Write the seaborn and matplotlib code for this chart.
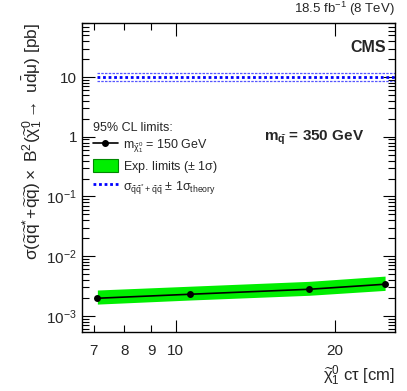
import numpy as np
import pandas as pd
import matplotlib
matplotlib.use("Agg")
import matplotlib.pyplot as plt
import seaborn as sns
from matplotlib.lines import Line2D
from matplotlib.patches import Patch
from matplotlib.ticker import FixedLocator, NullFormatter, LogLocator, FixedFormatter

# valores
ctau = [7.11, 10.65, 17.9, 24.9]
limite_exp = [1.98e-3, 2.31e-3, 2.80e-3, 3.40e-3]
banda_baja = [1.58e-3, 1.85e-3, 2.22e-3, 2.68e-3]
banda_alta = [2.72e-3, 3.15e-3, 3.80e-3, 4.65e-3]

ctau_teoria = [7.11, 26.0]
sigma_teoria = [10.0, 10.0]
sigma_teoria_alta = [11.6, 11.6]
sigma_teoria_baja = [8.6, 8.6]

df = pd.DataFrame({"ctau": ctau, "limite": limite_exp})
df_teo = pd.DataFrame({"ctau": ctau_teoria, "sigma": sigma_teoria})

sns.set_theme(style="ticks")
plt.rcParams["font.family"] = ["Liberation Sans", "DejaVu Sans"]
plt.rcParams["mathtext.fontset"] = "custom"
plt.rcParams["mathtext.rm"] = "Liberation Sans"
plt.rcParams["mathtext.it"] = "Liberation Sans"  # estilo ROOT, sin cursiva
plt.rcParams["mathtext.bf"] = "Liberation Sans:bold"

fig = plt.figure(figsize=(4.07, 3.91), dpi=100)
ax = fig.add_axes([0.2015, 0.151, 0.769, 0.790])

# banda de limites esperados
ax.fill_between(ctau, banda_baja, banda_alta, color="#00ee00", lw=0, zorder=1)
sns.lineplot(data=df, x="ctau", y="limite", ax=ax, color="black", lw=1.2,
             marker="o", markersize=5, markeredgewidth=0, zorder=3)

# seccion eficaz teorica
sns.lineplot(data=df_teo, x="ctau", y="sigma", ax=ax, color="#0000ff",
             lw=2, linestyle=(0, (1, 1)), zorder=2)
ax.plot(ctau_teoria, sigma_teoria_alta, color="#5555ff", lw=0.9, linestyle=(0, (2, 1)))
ax.plot(ctau_teoria, sigma_teoria_baja, color="#5555ff", lw=0.9, linestyle=(0, (2, 1)))

ax.set_xscale("log")
ax.set_yscale("log")
ax.set_xlim(6.65, 26.0)
ax.set_ylim(5.4e-4, 80)

ax.xaxis.set_major_locator(FixedLocator([10, 20]))
ax.xaxis.set_major_formatter(FixedFormatter(["10", "20"]))
ax.xaxis.set_minor_locator(FixedLocator([7, 8, 9]))
ax.xaxis.set_minor_formatter(FixedFormatter(["7", "8", "9"]))

ax.yaxis.set_minor_locator(LogLocator(base=10, subs=np.arange(2, 10), numticks=20))
ax.yaxis.set_minor_formatter(NullFormatter())
ax.set_yticks([1e-3, 1e-2, 1e-1, 1, 10])
ax.set_yticklabels([r"$10^{-3}$", r"$10^{-2}$", r"$10^{-1}$", "1", "10"])

ax.tick_params(which="both", direction="in", top=True, right=True, labelsize=11,
               color="black", width=0.8)
ax.tick_params(which="major", length=9)
ax.tick_params(which="minor", length=5)
ax.tick_params(axis="x", which="both", pad=9, labelsize=11)
for s in ax.spines.values():
    s.set_linewidth(1.0)
    s.set_color("black")

ax.set_xlabel(r"$\widetilde{\chi}^{0}_{1}$ c$\tau$ [cm]", fontsize=12, loc="right")
ax.set_ylabel(r"$\sigma(\widetilde{q}\widetilde{q}^{*}\!+\!\widetilde{q}\widetilde{q}) \times$ B$^{2}(\widetilde{\chi}^{0}_{1} \rightarrow$ u$\bar{\rm d}\mu)$ [pb]",
              fontsize=12.5, loc="top", labelpad=2)

ax.text(1.0, 1.015, r"18.5 fb$^{-1}$ (8 TeV)", transform=ax.transAxes,
        ha="right", va="bottom", fontsize=9.5)
ax.text(0.97, 0.92, "CMS", transform=ax.transAxes, ha="right", va="center",
        fontsize=11.5, fontweight="bold")
ax.text(0.74, 0.63, r"$\mathbf{m_{\widetilde{q}}}$ = 350 GeV", transform=ax.transAxes,
        ha="center", va="center", fontsize=11, fontweight="bold")

handles = [
    Line2D([], [], color="black", lw=1.2, marker="o", markersize=4),
    Patch(facecolor="#00ee00", edgecolor="#008800", lw=0.8),
    Line2D([], [], color="#0000ff", lw=2, linestyle=(0, (1, 1))),
]
labels = [
    r"m$_{\widetilde{\chi}^{0}_{1}}$ = 150 GeV",
    r"Exp. limits ($\pm$ 1$\sigma$)",
    r"$\sigma_{\widetilde{q}\widetilde{q}^{*}+\widetilde{q}\widetilde{q}}$ $\pm$ 1$\sigma_{\rm theory}$",
]
leg = ax.legend(handles, labels, title="95% CL limits:", loc="upper left",
                bbox_to_anchor=(0.01, 0.705), frameon=False, fontsize=9,
                title_fontsize=9, handlelength=2.0, handleheight=1.3,
                labelspacing=0.3, borderaxespad=0.2, handletextpad=0.4)
leg._legend_box.align = "left"

fig.savefig("out.png", dpi=100)
